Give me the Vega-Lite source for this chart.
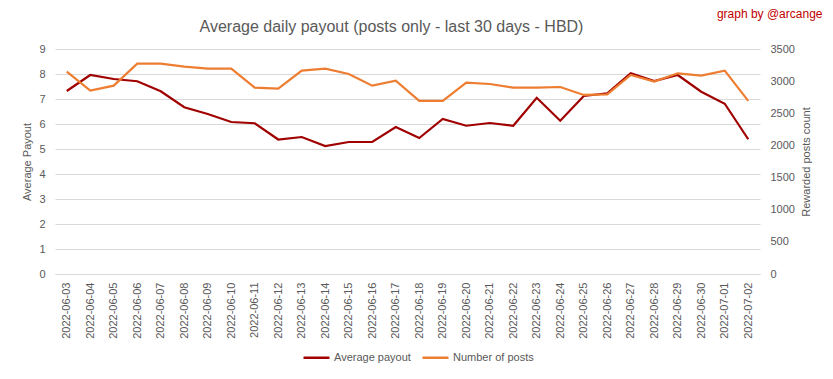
{
  "$schema": "https://vega.github.io/schema/vega-lite/v6.json",
  "width": 705,
  "height": 225,
  "autosize": {"type": "none"},
  "padding": {"left": 55, "top": 49, "right": 73, "bottom": 105},
  "background": "white",
  "config": {
    "font": "Liberation Sans",
    "view": {"stroke": null},
    "axis": {"labelColor": "#595959", "titleColor": "#595959", "labelFontSize": 11, "titleFontSize": 11, "titleFontWeight": "normal", "ticks": false, "domain": false}
  },
  "title": {
    "text": "Average daily payout (posts only - last 30 days - HBD)",
    "fontSize": 16,
    "fontWeight": "normal",
    "color": "#595959",
    "anchor": "middle",
    "dx": -16,
    "dy": 44,
    "offset": 16
  },
  "data": {
    "values": [
      {"date": "2022-06-03", "payout": 7.32, "posts": 3147},
      {"date": "2022-06-04", "payout": 7.96, "posts": 2852},
      {"date": "2022-06-05", "payout": 7.8, "posts": 2930},
      {"date": "2022-06-06", "payout": 7.71, "posts": 3272},
      {"date": "2022-06-07", "payout": 7.31, "posts": 3272},
      {"date": "2022-06-08", "payout": 6.67, "posts": 3225},
      {"date": "2022-06-09", "payout": 6.4, "posts": 3194},
      {"date": "2022-06-10", "payout": 6.08, "posts": 3194},
      {"date": "2022-06-11", "payout": 6.03, "posts": 2899},
      {"date": "2022-06-12", "payout": 5.38, "posts": 2883},
      {"date": "2022-06-13", "payout": 5.48, "posts": 3163},
      {"date": "2022-06-14", "payout": 5.12, "posts": 3194},
      {"date": "2022-06-15", "payout": 5.28, "posts": 3111},
      {"date": "2022-06-16", "payout": 5.28, "posts": 2930},
      {"date": "2022-06-17", "payout": 5.88, "posts": 3008},
      {"date": "2022-06-18", "payout": 5.44, "posts": 2692},
      {"date": "2022-06-19", "payout": 6.2, "posts": 2692},
      {"date": "2022-06-20", "payout": 5.93, "posts": 2977},
      {"date": "2022-06-21", "payout": 6.04, "posts": 2956},
      {"date": "2022-06-22", "payout": 5.93, "posts": 2899},
      {"date": "2022-06-23", "payout": 7.05, "posts": 2899},
      {"date": "2022-06-24", "payout": 6.13, "posts": 2909},
      {"date": "2022-06-25", "payout": 7.12, "posts": 2785},
      {"date": "2022-06-26", "payout": 7.23, "posts": 2795},
      {"date": "2022-06-27", "payout": 8.03, "posts": 3096},
      {"date": "2022-06-28", "payout": 7.72, "posts": 2992},
      {"date": "2022-06-29", "payout": 7.96, "posts": 3122},
      {"date": "2022-06-30", "payout": 7.29, "posts": 3086},
      {"date": "2022-07-01", "payout": 6.81, "posts": 3163},
      {"date": "2022-07-02", "payout": 5.39, "posts": 2692}
    ]
  },
  "layer": [
    {
      "mark": {"type": "line", "strokeWidth": 2.2},
      "encoding": {
        "x": {
          "field": "date", "type": "ordinal", "sort": null,
          "scale": {"paddingOuter": 0.5},
          "axis": {"title": null, "labelAngle": -90, "labelPadding": 8, "domain": true, "domainColor": "#d9d9d9", "labelFontSize": 11}
        },
        "y": {
          "field": "payout", "type": "quantitative",
          "scale": {"domain": [0, 9], "nice": false},
          "axis": {"title": "Average Payout", "values": [0, 1, 2, 3, 4, 5, 6, 7, 8, 9], "labelOverlap": false, "grid": true, "gridColor": "#d9d9d9", "labelPadding": 10, "titlePadding": 6}
        },
        "color": {
          "datum": "Average payout", "type": "nominal",
          "scale": {"domain": ["Average payout", "Number of posts"], "range": ["#A00000", "#ED7D31"]},
          "legend": {
            "title": null, "orient": "none", "direction": "horizontal",
            "legendX": 247, "legendY": 294,
            "symbolType": "stroke", "symbolSize": 676, "symbolStrokeWidth": 2.5,
            "labelFontSize": 11, "labelColor": "#595959", "labelOffset": 3, "columnPadding": 6
          }
        }
      }
    },
    {
      "mark": {"type": "line", "strokeWidth": 2.2},
      "encoding": {
        "x": {
          "field": "date", "type": "ordinal", "sort": null,
          "axis": {"orient": "top", "labels": false, "domain": false, "ticks": false, "title": "graph by @arcange", "titleColor": "#C00000", "titleFontSize": 12, "titleAlign": "right", "titleAnchor": "end", "titleX": 767, "titleY": -32, "titleBaseline": "alphabetic"}
        },
        "y": {
          "field": "posts", "type": "quantitative",
          "scale": {"domain": [0, 3500], "nice": false},
          "axis": {"title": "Rewarded posts count", "orient": "right", "format": "d", "values": [0, 500, 1000, 1500, 2000, 2500, 3000, 3500], "grid": false, "labelPadding": 10, "titlePadding": 17, "titleAngle": 270}
        },
        "color": {"datum": "Number of posts", "type": "nominal"}
      }
    }
  ],
  "resolve": {"scale": {"y": "independent"}, "axis": {"x": "independent"}}
}
